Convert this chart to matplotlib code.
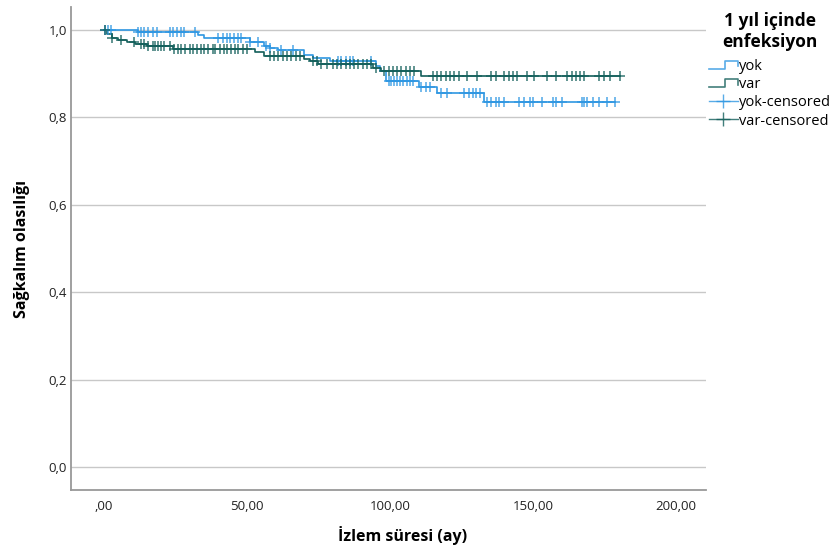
import matplotlib
matplotlib.use('agg')
import matplotlib.pyplot as plt
from matplotlib.lines import Line2D
from matplotlib.legend_handler import HandlerBase
from matplotlib.ticker import FuncFormatter
import numpy as np

plt.rcParams['font.family'] = ['Open Sans', 'DejaVu Sans']

# --- dati ---
group_names = ['yok', 'var']
legend_title = '1 yıl içinde\nenfeksiyon'

yok_times = [0, 12, 33, 35, 51, 56, 58, 61, 70, 73, 79, 95, 96.6, 98.5, 110, 116.5, 133]
yok_surv = [1.0, 0.995, 0.988, 0.981, 0.972, 0.964, 0.960, 0.955, 0.942, 0.937, 0.930, 0.918, 0.907, 0.884, 0.870, 0.855, 0.836]
yok_end = 178.7
yok_cens = [0.5, 1.5, 2.5, 12, 13, 14, 15.5, 17, 18.5, 23, 24, 25.5, 27, 28, 32, 40, 41.5, 43, 44,
            45.5, 47, 48, 51, 54, 56.5, 58, 62, 66, 82, 83, 84.5, 86, 87, 93.5, 99.5, 100.5, 101.5,
            102.5, 103.5, 104.5, 106, 107, 108, 111, 112.5, 114, 118, 120, 126, 127.5, 129, 130,
            131.5, 134, 135.5, 137, 138, 140, 145, 147, 149, 150, 153, 157, 158, 160, 167, 168,
            169, 171, 173, 176, 178.7]

var_times = [0, 1, 3, 5, 8, 11, 15, 24, 53, 56, 70, 72, 75, 94, 97, 111]
var_surv = [1.0, 0.991, 0.983, 0.977, 0.972, 0.968, 0.964, 0.957, 0.949, 0.941, 0.933, 0.929, 0.922, 0.914, 0.907, 0.895]
var_end = 180.5
var_cens = [0.5, 3, 6, 10.5, 13, 14, 15.5, 17, 18, 19, 20, 21, 23, 24.5, 26, 27, 28.5, 30, 31,
            32.5, 34, 35, 36.5, 38, 39, 40.5, 42, 43, 44.5, 46, 47, 48.5, 50, 58, 59.5, 61, 62.5,
            64, 65.5, 67, 68.5, 73, 74.5, 76, 78, 80, 81.5, 83, 84.5, 86, 87.5, 89, 90.5, 92,
            93.5, 95, 98, 99.5, 101, 102.5, 104, 105.5, 107, 108.5, 115, 116.5, 118, 119.5, 121,
            122.5, 124, 127, 130.5, 135.5, 137, 140, 141.5, 143, 144.5, 148, 150.5, 155, 158,
            162, 163.5, 165, 166.5, 168, 173, 175, 177, 180.5]

col_yok = '#2f97e2'
col_var = '#135f5b'


class StepHandler(HandlerBase):
    # simbolo a gradino come nella legenda SPSS
    def create_artists(self, legend, orig_handle, xdescent, ydescent, width, height, fontsize, trans):
        x0 = -xdescent
        y0 = -ydescent
        xs = [x0, x0 + 0.55 * width, x0 + 0.55 * width, x0 + width, x0 + width]
        ys = [y0 + 0.1 * height, y0 + 0.1 * height, y0 + 0.85 * height, y0 + 0.85 * height, y0 + 0.35 * height]
        l = Line2D(xs, ys, color=orig_handle.get_color(), lw=1.2, alpha=0.8)
        l.set_transform(trans)
        return [l]


def surv_at(times, surv, t):
    idx = np.searchsorted(times, t, side='right') - 1
    return np.array(surv)[idx]


fig = plt.figure(figsize=(8.4, 5.52), dpi=100)
ax = fig.add_axes([71/840, 1-490/552, (706-71)/840, (490-7)/552])

for times, surv, end, cens, col in [(yok_times, yok_surv, yok_end, yok_cens, col_yok),
                                     (var_times, var_surv, var_end, var_cens, col_var)]:
    xs = list(times) + [end]
    ys = list(surv) + [surv[-1]]
    ax.step(xs, ys, where='post', color=col, lw=1.2, zorder=3)
    cy = surv_at(times, surv, np.array(cens))
    ax.plot(cens, cy, ls='none', marker='+', ms=7, mew=1.1, color=col, alpha=0.85, zorder=4)

ax.set_xlim(-11.5, 210.5)
ax.set_ylim(-0.053, 1.053)
ax.set_xticks([0, 50, 100, 150, 200])
ax.set_yticks([0, 0.2, 0.4, 0.6, 0.8, 1.0])
ax.xaxis.set_major_formatter(FuncFormatter(lambda v, p: ',00' if v == 0 else ('%.2f' % v).replace('.', ',')))
ax.yaxis.set_major_formatter(FuncFormatter(lambda v, p: ('%.1f' % v).replace('.', ',')))
ax.tick_params(length=0, labelsize=9.5, colors='#222222')
ax.tick_params(axis='x', pad=7)
ax.tick_params(axis='y', pad=3)
ax.yaxis.grid(True, color='#c8c8c8', lw=1.0)
ax.set_axisbelow(True)
for s in ['top', 'right']:
    ax.spines[s].set_visible(False)
for s in ['left', 'bottom']:
    ax.spines[s].set_color('#999999')
    ax.spines[s].set_linewidth(1.3)

ax.set_xlabel('İzlem süresi (ay)', fontsize=11.5, fontweight='bold')
ax.set_ylabel('Sağkalım olasılığı', fontsize=11.5, fontweight='bold')
ax.xaxis.set_label_coords((403-71)/635, -(526-490)/483)
ax.yaxis.set_label_coords(-(71-30)/635, 0.5)

h_yok = Line2D([], [], color=col_yok)
h_var = Line2D([], [], color=col_var)
h_yok_c = Line2D([], [], color=col_yok, marker='+', ms=10, lw=1.0, alpha=0.8)
h_var_c = Line2D([], [], color=col_var, marker='+', ms=10, lw=1.0, alpha=0.8)
leg = fig.legend([h_yok, h_var, h_yok_c, h_var_c],
                 ['yok', 'var', 'yok-censored', 'var-censored'],
                 handler_map={h_yok: StepHandler(), h_var: StepHandler()},
                 loc='upper left', bbox_to_anchor=(703/840, 1-6/552),
                 frameon=False, fontsize=10.5, title=legend_title,
                 title_fontproperties={'weight': 'bold', 'size': 12.5},
                 handlelength=2.0, handletextpad=0.1, labelspacing=0.22,
                 borderaxespad=0, numpoints=1)
leg._legend_box.align = 'center'
leg._legend_box.sep = 6
leg.get_title().set_multialignment('center')

fig.savefig('out.png', dpi=100)
